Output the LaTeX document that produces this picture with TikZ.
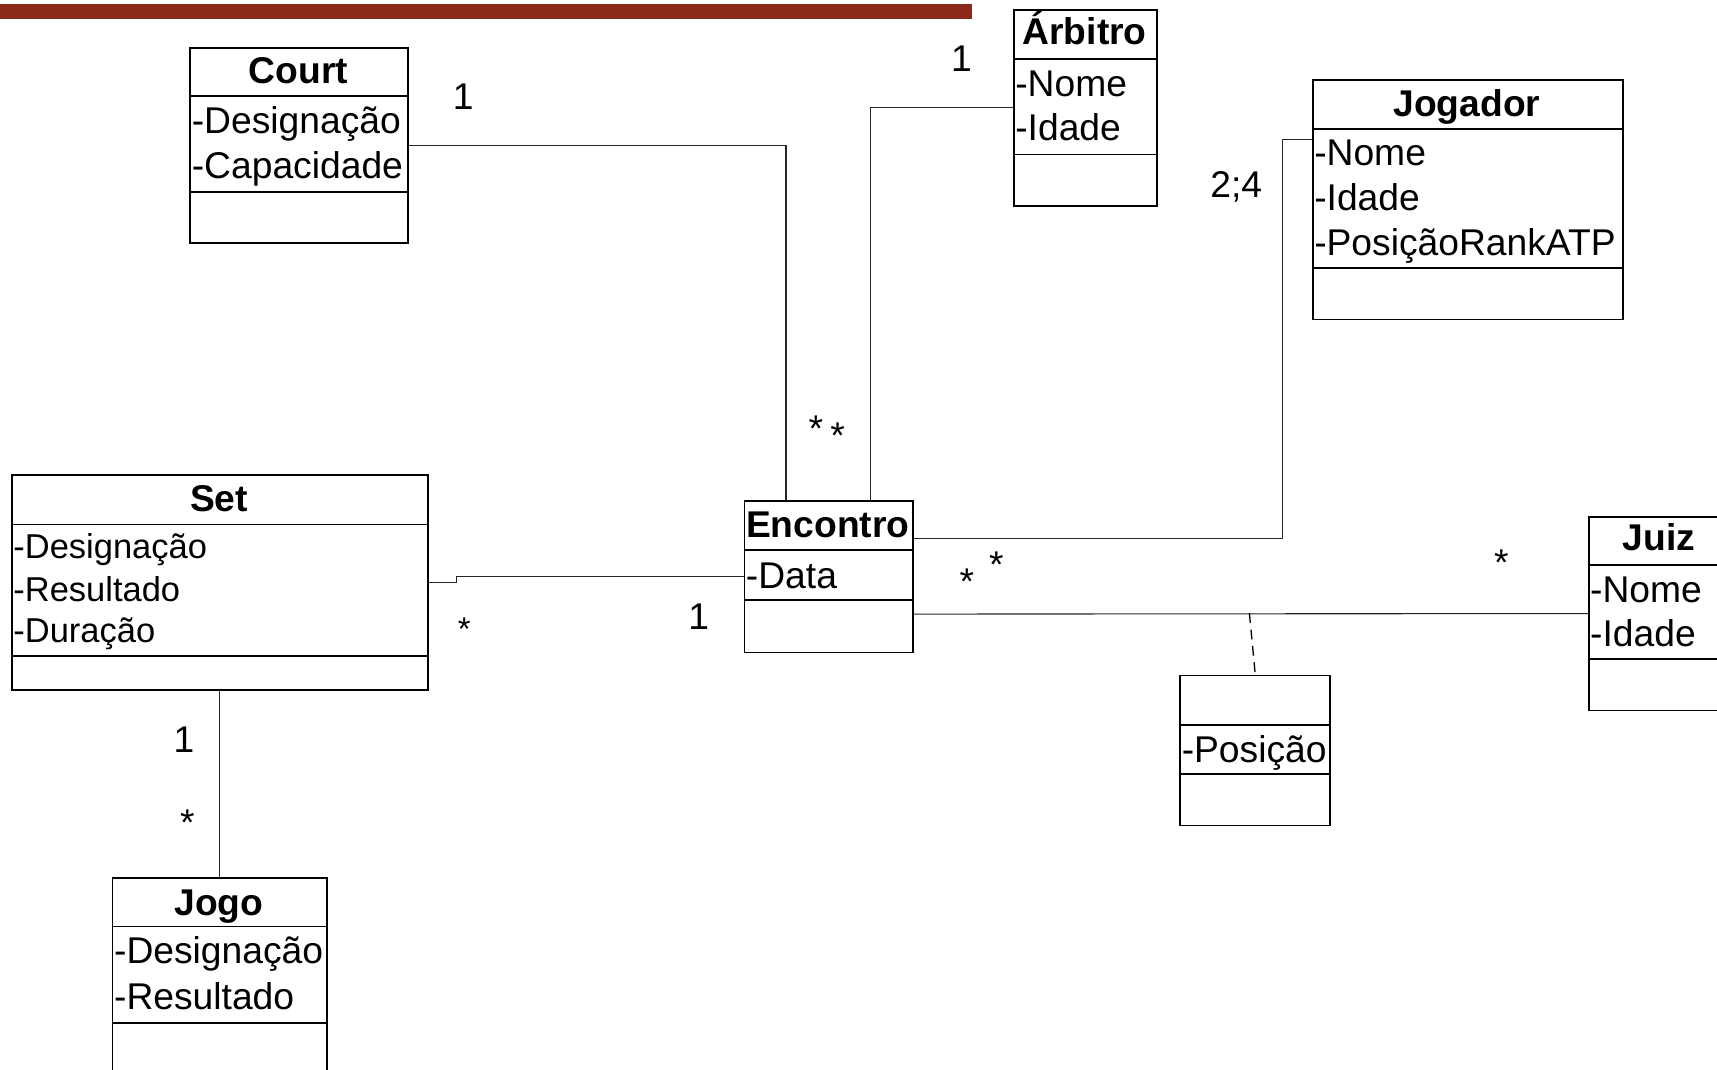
\documentclass[tikz,border=0pt]{standalone}
\usepackage{fontspec}
\setmainfont{Liberation Sans}
\definecolor{barred}{RGB}{139,42,26}
\begin{document}
\begin{tikzpicture}[x=1pt,y=-1pt,
  cls/.style={draw=black, line width=1.6pt, inner sep=0pt, fill=white},
  clsline/.style={draw=black, line width=1.6pt},
  conn/.style={draw=black!85, line width=1pt},
  assocdash/.style={draw=black, line width=1.2pt, dash pattern=on 9pt off 6pt},
  ttl/.style={font=\fontsize{34}{40}\selectfont\bfseries, inner sep=0pt, anchor=base},
  attr/.style={font=\fontsize{34}{40}\selectfont, inner sep=0pt, anchor=base west},
  attrsmall/.style={font=\fontsize{31.5}{38}\selectfont, inner sep=0pt, anchor=base west},
  mult/.style={font=\fontsize{34}{40}\selectfont, inner sep=0pt, anchor=base},
  multsmall/.style={font=\fontsize{30}{36}\selectfont, inner sep=0pt, anchor=base}
]
\newcommand\classbox[7]{%
  \node[cls, minimum width={#4-#2}, minimum height={#5-#3}, anchor=north west] (#1) at (#2,#3) {};
  \draw[clsline] (#2,#6) -- (#4,#6) (#2,#7) -- (#4,#7);}
\useasboundingbox (0,0) rectangle (1568,977);
\clip (0,0) rectangle (1568,977);

% red bar
\fill[barred] (0,4) rectangle (888,17);

% classes
\classbox{court}{173}{43}{372}{221}{88}{175}
\node[ttl] (courtT) at (272.5,76) {Court};
\node[attr] (courtA1) at (175,122) {-Designação};
\node[attr] (courtA2) at (175,163) {-Capacidade};

\classbox{arbitro}{925}{8}{1056}{187}{54}{141}
\node[ttl] (arbT) at (990.5,41) {Árbitro};
\node[attr] (arbA1) at (927,88) {-Nome};
\node[attr] (arbA2) at (927,128) {-Idade};

\classbox{jogador}{1198}{72}{1481}{291}{118}{245}
\node[ttl] (jogT) at (1339.5,106) {Jogador};
\node[attr] (jogA1) at (1200,151) {-Nome};
\node[attr] (jogA2) at (1200,192) {-Idade};
\node[attr] (jogA3) at (1200,233) {-PosiçãoRankATP};

\classbox{set}{10}{433}{390}{629}{479}{599}
\node[ttl] (setT) at (200,467) {Set};
\node[attrsmall] (setA1) at (12,510) {-Designação};
\node[attrsmall] (setA2) at (12,549) {-Resultado};
\node[attrsmall] (setA3) at (12,587) {-Duração};

\classbox{encontro}{679}{457}{833}{595}{502}{548}
\node[ttl] (encT) at (756,491) {Encontro};
\node[attr] (encA1) at (681,537) {-Data};

\classbox{juiz}{1450}{471}{1580}{648}{516}{602}
\node[ttl] (juizT) at (1515,503) {Juiz};
\node[attr] (juizA1) at (1452,550) {-Nome};
\node[attr] (juizA2) at (1452,590) {-Idade};

\classbox{posicao}{1077}{616}{1214}{753}{662}{707}
\node[attr] (posA1) at (1079,696) {-Posição};

\classbox{jogo}{102}{801}{298}{1010}{846}{934}
\node[ttl] (jogoT) at (200,836) {Jogo};
\node[attr] (jogoA1) at (104,880) {-Designação};
\node[attr] (jogoA2) at (104,922) {-Resultado};

% connectors
\draw[conn] (court.east) -| ([xshift=-39pt]encontro.north);
\draw[conn] (arbitro.west) -| ([xshift=38pt]encontro.north);
\draw[conn] ([yshift=54.5pt]jogador.west) -- ++(-27,0) |- ([yshift=35pt]encontro.east);
\draw[conn] (set.east) -- ++(25,0) |- (encontro.west);
\draw[conn] ([yshift=-34pt]encontro.east) -- (juiz.west);
\coordinate (assoc) at (1141,560);
\draw[assocdash] (assoc) -- (posicao.north);
\draw[conn] (set.south) -- (jogo.north);

% multiplicities
\node[mult] (m1) at (423,100) {1};
\node[mult] (m2) at (878,65) {1};
\node[mult] (m3) at (745,403) {*};
\node[mult] (m4) at (765,410) {*};
\node[mult] (m5) at (1129,180) {2;4};
\node[mult] (m6) at (910,527) {*};
\node[mult] (m7) at (883,543) {*};
\node[mult] (m8) at (1371,526) {*};
\node[multsmall] (m9) at (424,585) {*};
\node[mult] (m10) at (638,575) {1};
\node[mult] (m11) at (168,687) {1};
\node[mult] (m12) at (171,763) {*};
\end{tikzpicture}
\end{document}
